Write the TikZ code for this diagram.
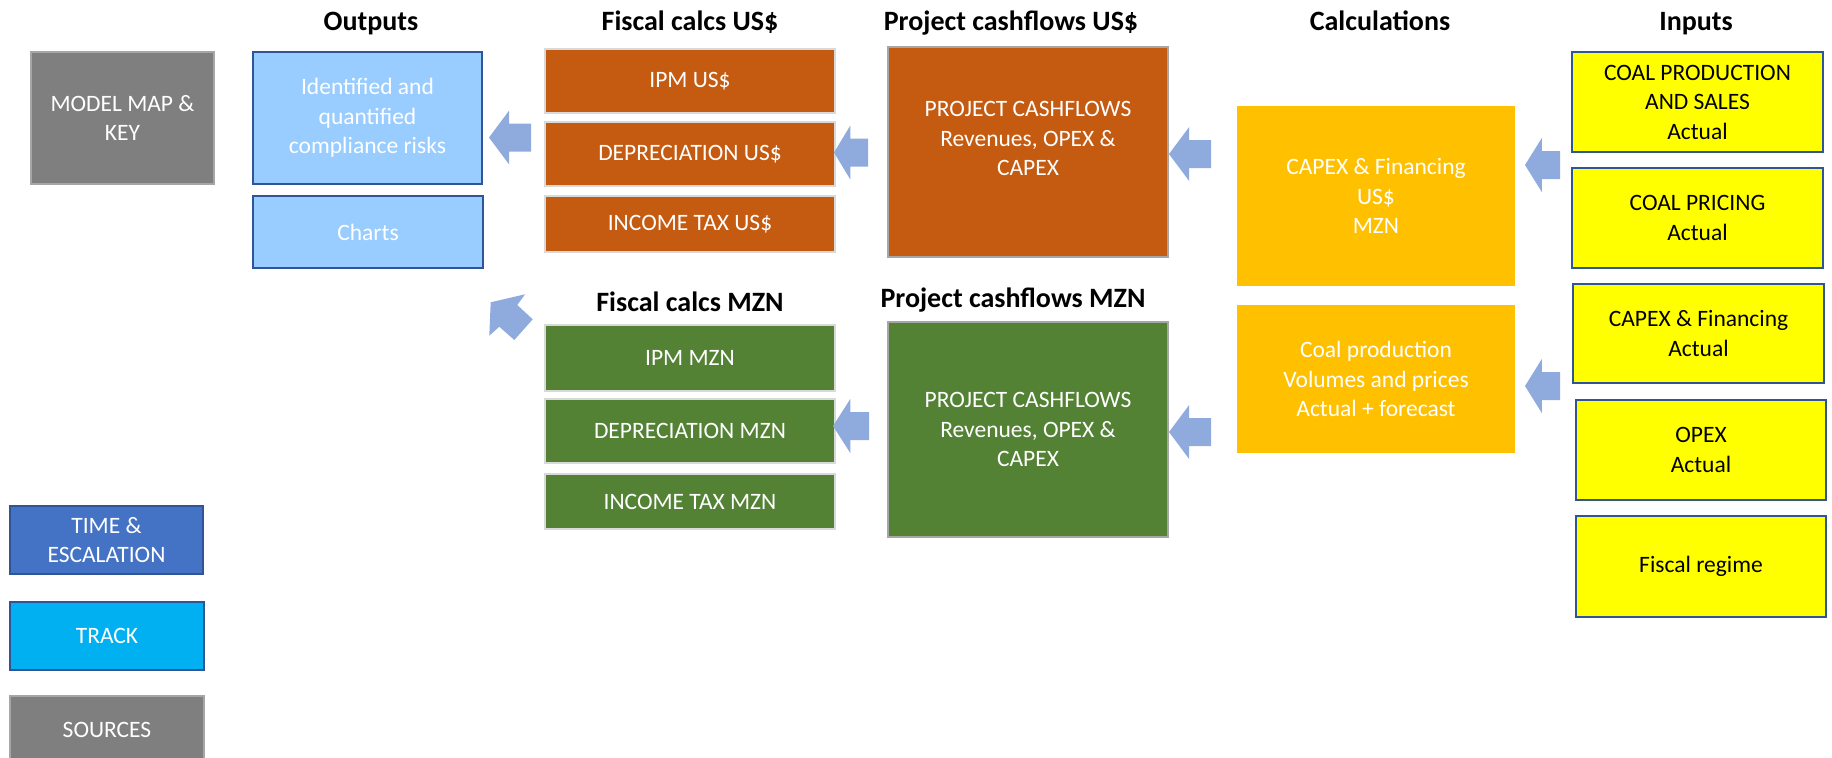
\documentclass[tikz,border=0pt]{standalone}
\usepackage{fontspec}
\setmainfont{Carlito}
\usetikzlibrary{calc}

\definecolor{keygray}{HTML}{7F7F7F}
\definecolor{keygrayline}{HTML}{A6A6A6}
\definecolor{outblue}{HTML}{99CCFF}
\definecolor{navyline}{HTML}{2F5597}
\definecolor{usdorange}{HTML}{C55A11}
\definecolor{mzngreen}{HTML}{548235}
\definecolor{lightline}{HTML}{D9D9D9}
\definecolor{calcamber}{HTML}{FFC000}
\definecolor{inyellow}{HTML}{FFFF00}
\definecolor{timeblue}{HTML}{4472C4}
\definecolor{trackcyan}{HTML}{00B0F0}
\definecolor{flowblue}{HTML}{8FAADC}

% box given by its corners (x1,y1)-(x2,y2) in pixel units
\newcommand\mapbox[7]{%
  \node[#6, minimum width={(#4-#2)*0.5pt}, minimum height={(#5-#3)*0.5pt}]
    (#1) at ({(#2+#4)/2},{(#3+#5)/2}) {#7};}

% left-pointing block arrow: tip x, tail x, centre y
\newcommand\flowarrow[3]{%
  \fill[flowblue] (#1,#3)
    -- ({#1+0.48*(#2-#1)},{#3-27}) -- ({#1+0.48*(#2-#1)},{#3-14})
    -- (#2,{#3-14}) -- (#2,{#3+14})
    -- ({#1+0.48*(#2-#1)},{#3+14}) -- ({#1+0.48*(#2-#1)},{#3+27}) -- cycle;}

\begin{document}
\begin{tikzpicture}[x=0.5pt,y=-0.5pt,
  cell/.style={rectangle, inner sep=0pt, align=center,
    font={\fontsize{11.75}{14.75}\selectfont}},
  title/.style={inner sep=0pt, anchor=base,
    font={\fontsize{14}{17}\selectfont\bfseries}},
  keybox/.style={cell, fill=keygray, draw=keygrayline, line width=1.2pt, text=white},
  outbox/.style={cell, fill=outblue, draw=navyline, line width=1pt, text=white},
  usdbox/.style={cell, fill=usdorange, draw=lightline, line width=1.4pt, text=white},
  mznbox/.style={cell, fill=mzngreen, draw=lightline, line width=1.4pt, text=white},
  usdflow/.style={cell, fill=usdorange, draw=keygrayline, line width=1.4pt, text=white},
  mznflow/.style={cell, fill=mzngreen, draw=keygrayline, line width=1.4pt, text=white},
  calcbox/.style={cell, fill=calcamber, text=white},
  inbox/.style={cell, fill=inyellow, draw=navyline, line width=1.3pt, text=black},
  timebox/.style={cell, fill=timeblue, draw=navyline, line width=1pt, text=white},
  trackbox/.style={cell, fill=trackcyan, draw=navyline, line width=1pt, text=white}]

\useasboundingbox (0,0) rectangle (1832,757);
\clip (0,0) rectangle (1832,757);

% column headings
\node[title] (hout)   at (371,30)  {Outputs};
\node[title] (hfusd)  at (690,30)  {Fiscal calcs US\$};
\node[title] (hpusd)  at (1011,30) {Project cashflows US\$};
\node[title] (hcalc)  at (1380,30) {Calculations};
\node[title] (hin)    at (1696,30) {Inputs};
\node[title] (hfmzn)  at (690,311) {Fiscal calcs MZN};
\node[title] (hpmzn)  at (1013,307) {Project cashflows MZN};

% key boxes
\mapbox{map}{31}{52}{214}{184}{keybox}{MODEL MAP \&\\KEY}
\mapbox{time}{10}{506}{203}{574}{timebox}{TIME \&\\ESCALATION}
\mapbox{track}{10}{602}{204}{670}{trackbox}{TRACK}
\mapbox{sources}{10}{696}{204}{764}{keybox}{SOURCES}

% outputs
\mapbox{risks}{253}{52}{482}{184}{outbox}{Identified and\\quantified\\compliance risks}
\mapbox{charts}{253}{196}{483}{268}{outbox}{Charts}

% fiscal calculations
\mapbox{ipmusd}{545}{49}{835}{113}{usdbox}{IPM US\$}
\mapbox{depusd}{545}{122}{835}{186}{usdbox}{DEPRECIATION US\$}
\mapbox{taxusd}{545}{196}{835}{252}{usdbox}{INCOME TAX US\$}
\mapbox{ipmmzn}{545}{325}{835}{391}{mznbox}{IPM MZN}
\mapbox{depmzn}{545}{399}{835}{463}{mznbox}{DEPRECIATION MZN}
\mapbox{taxmzn}{545}{474}{835}{529}{mznbox}{INCOME TAX MZN}

% project cashflows
\mapbox{pcfusd}{888}{47}{1168}{257}{usdflow}{PROJECT CASHFLOWS\\Revenues, OPEX \&\\CAPEX\\[-6pt]\strut}
\mapbox{pcfmzn}{888}{322}{1168}{537}{mznflow}{PROJECT CASHFLOWS\\Revenues, OPEX \&\\CAPEX}

% calculations
\mapbox{capcalc}{1237}{106}{1515}{286}{calcbox}{CAPEX \& Financing\\US\$\\MZN}
\mapbox{coalcalc}{1237}{305}{1515}{453}{calcbox}{Coal production\\Volumes and prices\\Actual + forecast}

% inputs
\mapbox{coalprod}{1572}{52}{1823}{152}{inbox}{COAL PRODUCTION\\AND SALES\\Actual}
\mapbox{coalprice}{1572}{168}{1823}{268}{inbox}{COAL PRICING\\Actual}
\mapbox{capin}{1573}{284}{1824}{383}{inbox}{CAPEX \& Financing\\Actual}
\mapbox{opex}{1576}{400}{1826}{500}{inbox}{OPEX\\Actual}
\mapbox{fiscal}{1576}{516}{1826}{617}{inbox}{Fiscal regime}

% flow arrows
\flowarrow{489}{531}{137.5}
\flowarrow{834}{868}{152.5}
\flowarrow{1169}{1211}{154}
\flowarrow{1525}{1560}{165}
\flowarrow{833}{869}{426}
\flowarrow{1169}{1211}{432}
\flowarrow{1525}{1560}{386}

% diagonal arrow from the MZN column up to the outputs
\fill[flowblue] (490.7,302.3) -- (525,294.3) -- (517.3,305) -- (532.7,319.3)
  -- (514.3,340) -- (499.3,326.7) -- (489.3,335.7) -- cycle;

\end{tikzpicture}
\end{document}
